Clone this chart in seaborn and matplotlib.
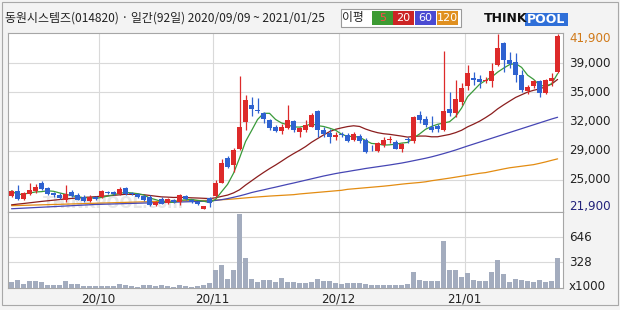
import numpy as np
import pandas as pd
import matplotlib
matplotlib.use("Agg")
import matplotlib.pyplot as plt
import seaborn as sns
from matplotlib.patches import Rectangle

# ---------------- data ----------------
title = "동원시스템즈(014820) · 일간(92일) 2020/09/09 ~ 2021/01/25"

opens = [23400, 23970, 23120, 23620, 24000, 24930, 24280, 23770, 23470, 22930,
         23890, 23500, 23310, 22850, 23310, 23310, 23800, 23850, 23620, 24280,
         23700, 23620, 23390, 23310, 22390, 23080, 22620, 23000, 22700, 23390,
         23000, 22770, 21950, 23150, 23430, 24930, 27710, 26930, 28830, 31900,
         33800, 33200, 32850, 32080, 31330, 30870, 31140, 31980, 30760, 30950,
         31330, 33120, 30950, 30640, 30180, 30520, 30370, 29790, 30260, 29790,
         28830, 28570, 29230, 29820, 29600, 28720, 29900, 29720, 32660, 32170,
         31250, 31400, 30950, 33400, 32850, 34100, 35970, 36900, 36750, 36600,
         36600, 38400, 40850, 38950, 38750, 37250, 35350, 35980, 36550, 35200,
         36600, 37600]
highs = [24150, 24660, 23900, 24850, 24780, 25160, 24400, 23900, 23700, 24660,
         24050, 23700, 23500, 23550, 23450, 24100, 24000, 24000, 24470, 24400,
         23850, 23750, 23550, 23500, 22800, 23300, 23200, 23100, 23600, 23500,
         23100, 22850, 22300, 23250, 25240, 27600, 27980, 28850, 37150, 34950,
         34760, 34570, 33050, 32200, 31500, 31630, 33810, 32100, 31330, 32100,
         32850, 33230, 31330, 31020, 30760, 30760, 30570, 30670, 30490, 29980,
         29230, 29600, 30100, 30250, 29790, 29500, 30200, 32550, 33150, 32550,
         32550, 31630, 40000, 35320, 36660, 36360, 38370, 37550, 37220, 36990,
         38570, 41900, 41050, 39900, 39700, 37800, 36090, 36700, 36700, 36800,
         37440, 41900]
lows = [23250, 22930, 23000, 23500, 23700, 24050, 23500, 23350, 23050, 22730,
        23250, 22900, 22700, 22750, 23000, 23200, 23600, 23500, 23500, 23500,
        23500, 23200, 22800, 22300, 22250, 22450, 22500, 22600, 22400, 22950,
        22650, 22400, 21900, 22200, 23310, 24850, 26560, 26170, 28640, 30950,
        32550, 32850, 31710, 30950, 30760, 30500, 31020, 30760, 30180, 30760,
        31250, 30180, 30180, 29500, 29800, 30100, 29600, 29690, 29500, 28340,
        28570, 28460, 29050, 29420, 28720, 28460, 29500, 29500, 31800, 31330,
        30760, 30760, 30800, 32550, 32400, 33800, 35520, 36070, 35700, 36300,
        35890, 38200, 37600, 38000, 36460, 35320, 35060, 35800, 34750, 35100,
        35970, 37400]
closes = [24000, 23120, 23770, 24080, 24390, 24160, 23620, 23470, 23160, 23620,
          23390, 23000, 22850, 23310, 23120, 23930, 23750, 23620, 24160, 23620,
          23660, 23310, 22930, 22390, 22700, 22540, 23080, 22700, 23470, 23080,
          22770, 22540, 22250, 22600, 24930, 27140, 26750, 28650, 31250, 34370,
          33350, 33100, 32200, 31230, 30870, 31330, 32100, 30950, 31140, 31520,
          32660, 30950, 30480, 30180, 30330, 30400, 29690, 30480, 29690, 28470,
          28720, 29420, 29790, 29870, 28830, 29340, 29800, 32400, 32090, 31520,
          30950, 31030, 33120, 32850, 34450, 35800, 37490, 36650, 36450, 36650,
          37700, 40300, 38950, 38500, 37250, 35500, 35850, 36560, 35150, 36650,
          36900, 41650]
volumes_k = [82, 108, 56, 90, 90, 73, 43, 34, 43, 95,
             52, 56, 30, 30, 26, 30, 30, 30, 52, 34,
             26, 17, 34, 43, 30, 34, 30, 17, 34, 30,
             17, 30, 34, 60, 224, 289, 121, 224, 948, 379,
             116, 73, 103, 103, 73, 129, 73, 73, 69, 69,
             73, 116, 90, 95, 65, 56, 60, 60, 65, 52,
             43, 43, 43, 43, 43, 43, 52, 202, 108, 86,
             86, 86, 599, 224, 224, 142, 185, 108, 86, 86,
             202, 353, 177, 73, 116, 103, 95, 73, 103, 82,
             95, 379]
ma20_lead = [22400, 22480, 22550, 22630, 22710, 22790, 22860, 22930, 23000, 23070,
             23130, 23180, 23230, 23280, 23330, 23380, 23430, 23480, 23540]
ma60 = [21950, 21985, 22020, 22055, 22090, 22125, 22160, 22195, 22230, 22265,
        22300, 22335, 22370, 22405, 22440, 22460, 22480, 22500, 22520, 22540,
        22560, 22580, 22600, 22620, 22640, 22660, 22680, 22700, 22720, 22740,
        22760, 22780, 22800, 22850, 22900, 22990, 23110, 23260, 23420, 23600,
        23800, 23960, 24110, 24270, 24420, 24580, 24740, 24890, 25050, 25210,
        25370, 25530, 25690, 25830, 25970, 26090, 26200, 26320, 26430, 26550,
        26650, 26750, 26850, 26950, 27060, 27170, 27300, 27440, 27580, 27720,
        27880, 28060, 28250, 28450, 28660, 28890, 29120, 29340, 29560, 29780,
        30000, 30220, 30440, 30660, 30880, 31100, 31320, 31540, 31760, 31980,
        32200, 32400]
ma120 = [22300, 22320, 22340, 22360, 22380, 22400, 22420, 22440, 22460, 22480,
         22500, 22520, 22540, 22560, 22580, 22600, 22620, 22640, 22660, 22680,
         22700, 22720, 22740, 22760, 22780, 22800, 22815, 22830, 22845, 22860,
         22875, 22890, 22900, 22910, 22940, 22980, 23020, 23070, 23130, 23190,
         23250, 23300, 23350, 23400, 23440, 23480, 23520, 23560, 23640, 23700,
         23760, 23820, 23880, 23940, 24000, 24060, 24170, 24230, 24290, 24350,
         24410, 24470, 24530, 24600, 24680, 24760, 24830, 24890, 24950, 25030,
         25150, 25250, 25350, 25450, 25560, 25670, 25780, 25890, 26000, 26080,
         26220, 26360, 26500, 26630, 26720, 26810, 26900, 26990, 27140, 27300,
         27480, 27650]
month_labels = ["20/10", "20/11", "20/12", "21/01"]
month_start_idx = [15, 34, 55, 76]
price_tick_labels = ["39,000", "35,000", "32,000", "29,000", "25,000"]
price_max, price_min = 41900, 21900
vol_tick_values = [328, 646]
vol_tick_labels = ["328", "646"]

# ---------------- style ----------------
sns.set_theme(style="white")
plt.rcParams['font.family'] = ['Noto Sans CJK KR', 'DejaVu Sans']

RED, BLUE = "#dd2a2a", "#2f62d0"
C5, C20, C60, C120 = "#3a9a3a", "#8b1e1e", "#4646b4", "#e38c12"
GRID = "#d9d9d9"
FRAME = "#a6a6a6"

W, H = 620, 310
fig = plt.figure(figsize=(W / 100, H / 100), dpi=100, facecolor="#f3f3f3")


def frect(x0, y0, x1, y1):
    return [x0 / W, 1 - y1 / H, (x1 - x0) / W, (y1 - y0) / H]


axp = fig.add_axes(frect(7.5, 33, 563, 212))
axv = fig.add_axes(frect(7.5, 212, 563, 288))
for ax in (axp, axv):
    ax.set_facecolor("white")
    for s in ax.spines.values():
        s.set_color(FRAME)
        s.set_linewidth(0.8)

n = len(closes)
idx = np.arange(n)
o = np.array(opens, float)
h = np.array(highs, float)
l = np.array(lows, float)
c = np.array(closes, float)
v = np.array(volumes_k, float)

cs = pd.Series(c)
ma5 = cs.rolling(5, min_periods=1).mean().to_numpy()
ma20 = np.concatenate([np.array(ma20_lead, float), cs.rolling(20).mean().to_numpy()[len(ma20_lead):]])

df_ma = pd.DataFrame({"i": idx, "ma5": ma5, "ma20": ma20, "ma60": ma60, "ma120": ma120})

# moving averages
for col, colr in (("ma120", C120), ("ma60", C60), ("ma20", C20), ("ma5", C5)):
    sns.lineplot(data=df_ma, x="i", y=col, ax=axp, color=colr, linewidth=0.9, zorder=2)

# candles
up = c >= o
cols = np.where(up, RED, BLUE)
axp.vlines(idx, l, h, colors=cols, linewidth=0.9, zorder=3)
bh = np.maximum(np.abs(c - o), 90)
bb = (o + c) / 2 - bh / 2
axp.bar(idx, bh, bottom=bb, width=0.8, color=cols, linewidth=0, zorder=4)

# volume
axv.bar(idx, v, width=0.7, color="#a3acbe", linewidth=0, zorder=3)

# scales
step = (price_max - price_min) / 6
grid_vals = [price_min + k * step for k in range(5, 0, -1)]
pix = (price_max - price_min) / 175.1
axp.set_ylim(price_min - 2.8 * pix, price_max + 1.1 * pix)
axp.set_xlim(-0.67, 91.9)
axv.set_xlim(-0.67, 91.9)
axv.set_ylim(0, 969)

grid_x = [m - 0.5 for m in month_start_idx]
for ax in (axp, axv):
    ax.set_xticks(grid_x)
    ax.tick_params(length=0, labelbottom=False, labelleft=False)
    ax.grid(True, color=GRID, linewidth=0.8, zorder=0)
    ax.set_axisbelow(True)
    ax.set_xlabel("")
    ax.set_ylabel("")
axp.set_yticks(grid_vals)
axv.set_yticks(vol_tick_values)

# right-side labels
def ftext(x, y, s, **kw):
    fig.text(x / W, 1 - y / H, s, **kw)

lab_kw = dict(fontsize=8.6, va="center", ha="left", family="DejaVu Sans")
ftext(569, 38.3, "41,900", color="#d07a1a", **lab_kw)
for lab, gy in zip(price_tick_labels, [63.3, 92.3, 121.3, 150.6, 179.8]):
    ftext(569, gy, lab, color="#222222", **lab_kw)
ftext(569, 206.7, "21,900", color="#22227a", **lab_kw)
ftext(569, 237.3, vol_tick_labels[1], color="#222222", **lab_kw)
ftext(569, 262.5, vol_tick_labels[0], color="#222222", **lab_kw)
ftext(569, 286, "x1000", color="#222222", **lab_kw)

# month labels
for lab, gx in zip(month_labels, grid_x):
    xp = 11.5 + 6.0 * gx
    ftext(xp, 299.5, lab, fontsize=8.6, va="center", ha="center", color="#222222", family="DejaVu Sans")

# title
ftext(5, 18, title, fontsize=8.6, va="center", ha="left", color="#222222")

# MA legend box
fig.patches.append(Rectangle((341 / W, 1 - 27 / H), 120 / W, 18 / H, transform=fig.transFigure,
                             facecolor="white", edgecolor="#9a9a9a", linewidth=0.8))
ftext(353, 18, "이평", fontsize=8.5, va="center", ha="center", color="#222222")
for (x0, x1, fc, tc, s) in ((372, 393, "#3c9a32", "#ff4a4a", "5"),
                            (393, 414, "#cc2424", "white", "20"),
                            (415, 436, "#4a4ad2", "white", "60"),
                            (437, 458, "#e09020", "white", "120")):
    fig.patches.append(Rectangle((x0 / W, 1 - 25 / H), (x1 - x0) / W, 14 / H, transform=fig.transFigure,
                                 facecolor=fc, edgecolor="none"))
    ftext((x0 + x1) / 2, 18, s, fontsize=8, va="center", ha="center", color=tc, family="DejaVu Sans")

# logo
ftext(484, 19, "THINK", fontsize=9, fontweight="bold", va="center", ha="left", color="#111111", family="DejaVu Sans")
fig.patches.append(Rectangle((525 / W, 1 - 26 / H), 43 / W, 13 / H, transform=fig.transFigure,
                             facecolor="#2f6fd8", edgecolor="none"))
ftext(546.5, 19.5, "POOL", fontsize=9, fontweight="bold", va="center", ha="center", color="white", family="DejaVu Sans")

# watermark
axp.text(0.19, 0.045, "THINKPOOL.com", transform=axp.transAxes, fontsize=11, fontweight="bold",
         color="#bdbdbd", alpha=0.35, ha="center", va="center", family="DejaVu Sans", zorder=1)

# outer frame
fig.patches.append(Rectangle((1.5 / W, 1 - 305 / H), 616 / W, 303.5 / H, transform=fig.transFigure,
                             facecolor="none", edgecolor="#a8a8a8", linewidth=0.8))

fig.savefig("out.png", dpi=100, facecolor=fig.get_facecolor())
